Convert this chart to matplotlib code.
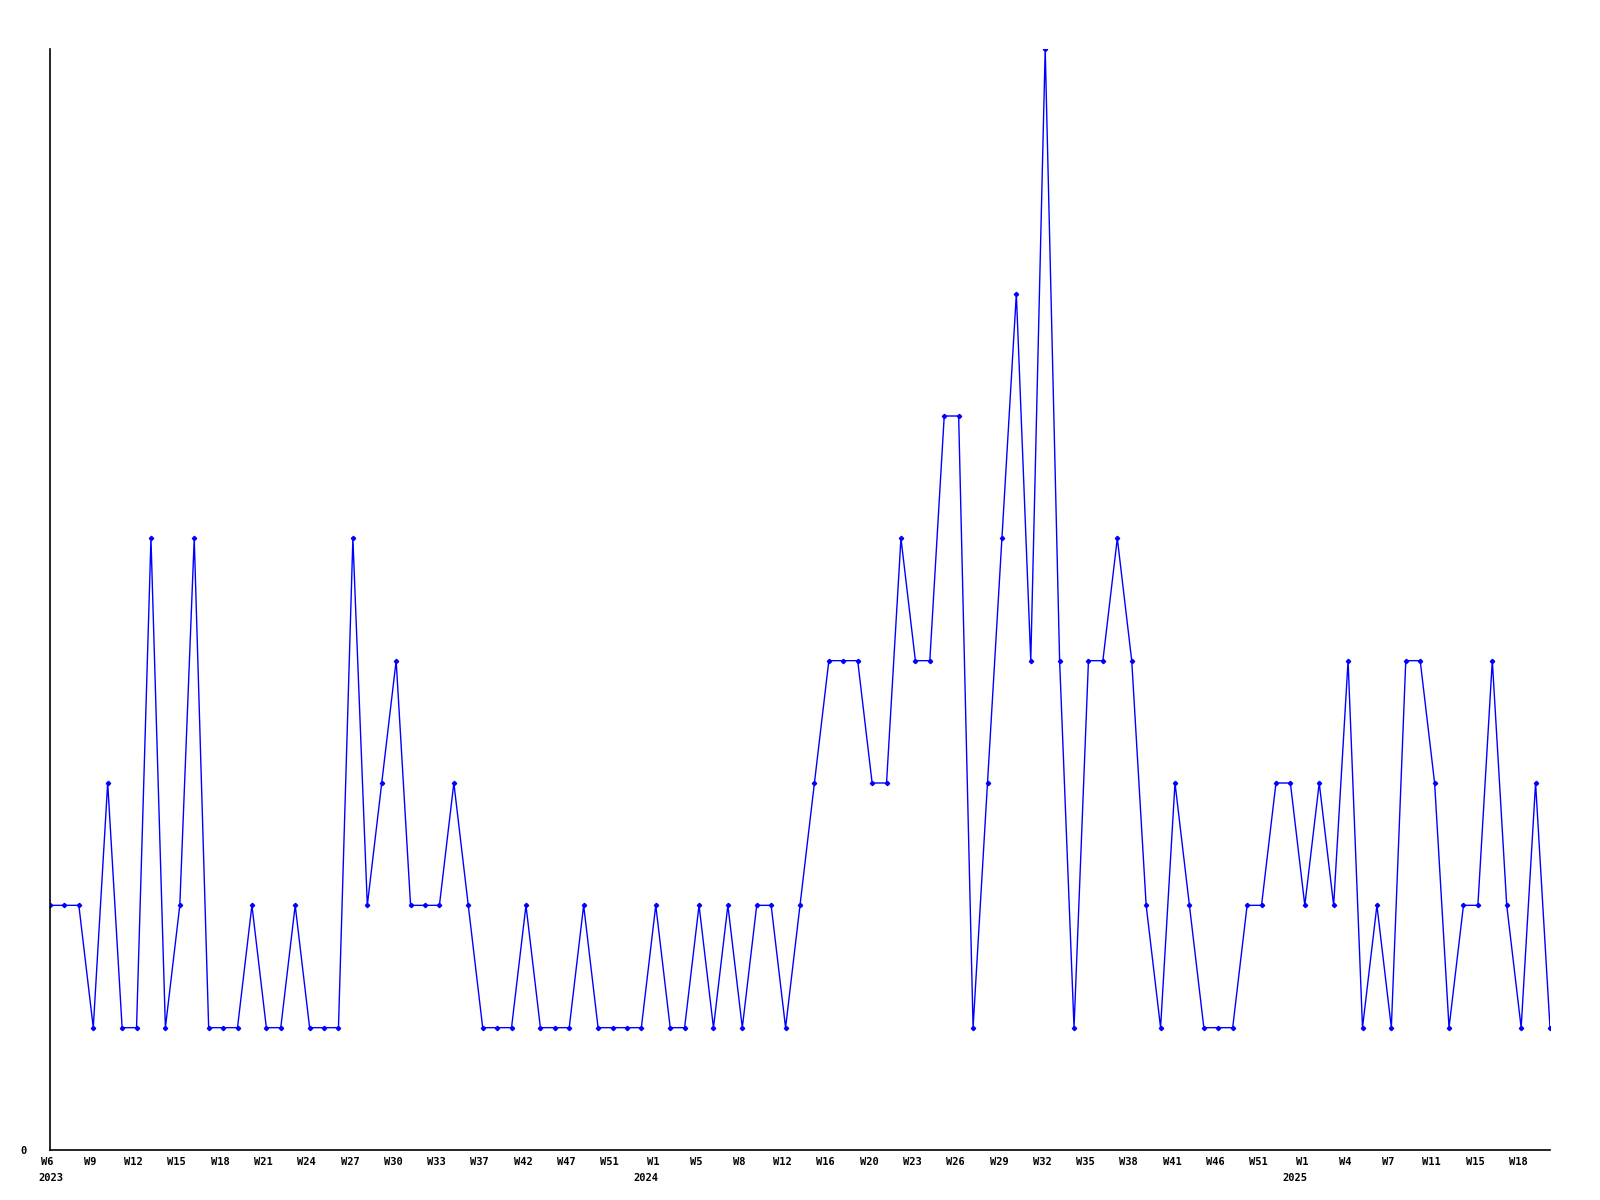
import matplotlib
matplotlib.use('Agg')
import matplotlib.pyplot as plt
import matplotlib.transforms as mtransforms
import numpy as np

# weekly counts, one value per data point
counts = [2, 2, 2, 1, 3, 1, 1, 5, 1, 2,
          5, 1, 1, 1, 2, 1, 1, 2, 1, 1,
          1, 5, 2, 3, 4, 2, 2, 2, 3, 2,
          1, 1, 1, 2, 1, 1, 1, 2, 1, 1,
          1, 1, 2, 1, 1, 2, 1, 2, 1, 2,
          2, 1, 2, 3, 4, 4, 4, 3, 3, 5,
          4, 4, 6, 6, 1, 3, 5, 7, 4, 9,
          4, 1, 4, 4, 5, 4, 2, 1, 3, 2,
          1, 1, 1, 2, 2, 3, 3, 2, 3, 2,
          4, 1, 2, 1, 4, 4, 3, 1, 2, 2,
          4, 2, 1, 3, 1]

# a week label on every third point
week_labels = ['W6', 'W9', 'W12', 'W15', 'W18', 'W21', 'W24', 'W27', 'W30',
               'W33', 'W37', 'W42', 'W47', 'W51', 'W1', 'W5', 'W8', 'W12',
               'W16', 'W20', 'W23', 'W26', 'W29', 'W32', 'W35', 'W38', 'W41',
               'W46', 'W51', 'W1', 'W4', 'W7', 'W11', 'W15', 'W18']
week_step = 3

# year markers: (point index, year, alignment)
year_idx = [0, 42, 87]
year_text = ['2023', '2024', '2025']
year_align = ['left', 'right', 'right']

x = np.arange(len(counts))

fig = plt.figure(figsize=(16, 12), dpi=100)
ax = fig.add_axes([50/1600, 50/1200, 1500/1600, 1101/1200])

ax.plot(x, counts, color='#0000ff', lw=1.0, marker='D', ms=2.2,
        mec='#0000ff', mfc='#0000ff')

ax.set_xlim(0, len(counts) - 1)
ax.set_ylim(0, 9)

for s in ['top', 'right']:
    ax.spines[s].set_visible(False)
for s in ['left', 'bottom']:
    ax.spines[s].set_linewidth(1.2)
    ax.spines[s].set_color('black')

font = dict(family='DejaVu Sans Mono', weight='bold', size=7.5)

ax.set_yticks([0])
ax.set_yticklabels(['0'], **font)
ax.tick_params(axis='y', length=0, pad=17)

ticks = np.arange(0, len(counts), week_step)[:len(week_labels)]
ax.set_xticks(ticks)
ax.set_xticklabels(week_labels, **font)
ax.tick_params(axis='x', length=0, pad=5)
# nudge the week labels a little to the left
shift = mtransforms.ScaledTranslation(-3/100, 0, fig.dpi_scale_trans)
for lab in ax.get_xticklabels():
    lab.set_transform(lab.get_transform() + shift)

trans = ax.get_xaxis_transform()
for i, yr, al in zip(year_idx, year_text, year_align):
    off = -12 if al == 'left' else 3
    ax.text(i + off / 14.43, -0.021, yr, transform=trans, ha=al, va='top',
            **font)

fig.savefig('out.png', dpi=100)
